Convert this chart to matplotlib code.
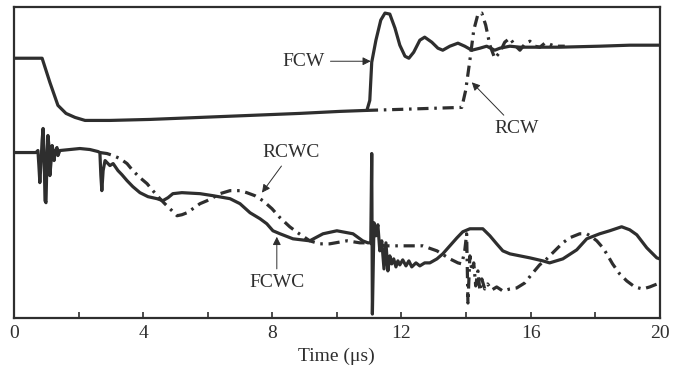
import numpy as np
import matplotlib.pyplot as plt

plt.rcParams['font.family'] = ['Liberation Serif', 'DejaVu Serif']

# upper traces: wall response, front (FCW) and rear (RCW)
t_fcw = [0.00, 0.87, 1.11, 1.36, 1.61, 1.89, 2.20, 2.97, 4.21, 5.76, 7.31, 8.85,
         10.09, 10.93, 11.02, 11.08, 11.21, 11.36, 11.49, 11.64, 11.80, 11.95,
         12.11, 12.23, 12.38, 12.57, 12.72, 12.94, 13.13, 13.28, 13.50, 13.75,
         13.96, 14.18, 14.43, 14.64, 14.89, 15.05, 15.36, 15.67, 16.29, 16.90,
         18.14, 19.07, 20.00]
fcw = [259, 259, 235, 212, 204, 200, 197, 197, 198, 200, 202, 204,
       206, 207, 217, 255, 277, 297, 304, 303, 289, 272,
       261, 259, 265, 277, 280, 275, 269, 267, 271, 274,
       271, 267, 269, 271, 267, 269, 271, 270, 270, 270,
       271, 272, 272]

t_rcw = [10.93, 11.95, 12.88, 13.87, 13.99, 14.12, 14.24, 14.37, 14.49, 14.61,
         14.74, 14.89, 15.05, 15.20, 15.36, 15.51, 15.67, 15.82, 15.98, 16.13,
         16.29, 16.44, 16.59, 16.75, 17.06]
rcw = [207, 208, 209, 210, 227, 257, 287, 303, 304, 292,
       272, 259, 265, 275, 279, 272, 267, 273, 276, 271,
       270, 274, 273, 271, 271]

# lower traces: FCWC and RCWC
t_fcwc = [0.00, 0.68, 0.74, 0.77, 0.80, 0.84, 0.87, 0.90, 0.93, 0.96, 0.99, 1.02,
          1.05, 1.08, 1.11, 1.15, 1.18, 1.21, 1.24, 1.27, 1.33, 1.36, 1.42, 1.73,
          2.04, 2.35, 2.60, 2.66, 2.69, 2.72, 2.76, 2.82, 2.88, 2.97, 3.07, 3.22,
          3.34, 3.50, 3.68, 3.90, 4.15, 4.43, 4.61, 4.77, 4.92, 5.20, 5.76, 6.16,
          6.69, 7.00, 7.31, 7.62, 7.83, 8.02, 8.24, 8.64, 9.16, 9.57, 10.00, 10.50,
          10.80, 10.96, 11.05, 11.08, 11.10, 11.15, 11.21, 11.27, 11.33, 11.39,
          11.46, 11.52, 11.58, 11.64, 11.70, 11.76, 11.83, 11.89, 11.95, 12.04,
          12.14, 12.23, 12.32, 12.45, 12.57, 12.72, 12.88, 13.10, 13.28, 13.50,
          13.72, 13.90, 14.12, 14.52, 14.74, 14.95, 15.14, 15.36, 15.98, 16.38,
          16.59, 17.00, 17.43, 17.74, 18.14, 18.45, 18.82, 19.07, 19.29, 19.60,
          19.91, 20.00]
fcwc = [165, 165, 167, 152, 135, 157, 177, 189, 167, 117, 115, 157,
        182, 172, 142, 157, 172, 167, 157, 165, 170, 162, 167, 168,
        169, 168, 166, 165, 142, 127, 147, 157, 155, 152, 154, 147,
        143, 137, 131, 125, 121, 119, 117, 120, 124, 125, 124, 122,
        119, 114, 105, 99, 94, 87, 84, 79, 77, 84, 87, 84,
        77, 75, 75, 164, 4, 95, 82, 93, 67, 77,
        49, 75, 47, 62, 54, 59, 51, 57, 53, 58,
        52, 57, 51, 55, 52, 55, 55, 59, 64, 72,
        80, 86, 89, 89, 82, 74, 67, 64, 60, 57,
        55, 59, 68, 79, 84, 87, 91, 88, 83, 70,
        60, 59]

t_rcwc = [2.66, 2.88, 3.07, 3.28, 3.50, 3.68, 3.90, 4.12, 4.30, 4.52, 4.67, 4.83,
          5.05, 5.20, 5.36, 5.54, 5.76, 5.98, 6.16, 6.38, 6.69, 7.00, 7.21, 7.46,
          7.71, 7.99, 8.24, 8.54, 8.79, 9.16, 9.47, 9.78, 10.31, 10.71, 10.93, 11.08,
          11.49, 11.86, 12.26, 12.66, 13.10, 13.50, 13.75, 13.87, 13.96, 14.02,
          14.06, 14.12, 14.18, 14.24, 14.30, 14.37, 14.43, 14.49, 14.58, 14.67,
          14.80, 14.95, 15.14, 15.36, 15.57, 15.82, 16.07, 16.28, 16.50, 16.81,
          17.00, 17.21, 17.52, 17.74, 17.89, 18.05, 18.24, 18.36, 18.54, 18.76,
          18.98, 19.23, 19.47, 19.69, 20.00]
rcwc = [165, 164, 162, 159, 154, 147, 140, 134, 127, 119, 114, 109,
        102, 103, 105, 109, 114, 117, 120, 124, 127, 127, 125, 122,
        117, 109, 100, 91, 85, 77, 74, 74, 77, 75, 75, 74,
        72, 72, 72, 72, 67, 59, 55, 54, 67, 84,
        15, 62, 47, 55, 32, 47, 27, 39, 29, 34,
        28, 31, 27, 29, 30, 35, 45, 53, 59, 69,
        75, 80, 84, 84, 81, 77, 70, 64, 54, 44,
        37, 31, 29, 31, 35]

ink = '#2e2e2e'
dashdot = (0, (3.5, 1.8, 0.8, 1.8))

fig = plt.figure(figsize=(6.74, 3.72), dpi=100)
ax = fig.add_axes([0.0208, 0.145, 0.958, 0.836])

ax.plot(t_fcw, fcw, color=ink, lw=2.3, solid_joinstyle='round')
ax.plot(t_rcw, rcw, color=ink, lw=2.3, ls=dashdot)
ax.plot(t_fcwc, fcwc, color=ink, lw=2.3, solid_joinstyle='round')
ax.plot(t_rcwc, rcwc, color=ink, lw=2.3, ls=dashdot)

arrow = dict(arrowstyle='-|>', color=ink, lw=0.7, mutation_scale=12, shrinkA=2, shrinkB=0)
ax.annotate('FCW', xy=(11.05, 256), xytext=(9.63, 256), ha='right', va='center',
            fontsize=14, color=ink, arrowprops=arrow)
ax.annotate('RCW', xy=(14.18, 235), xytext=(15.57, 189), ha='center', va='center',
            fontsize=14, color=ink, arrowprops=arrow)
ax.annotate('RCWC', xy=(7.68, 125), xytext=(8.59, 165), ha='center', va='center',
            fontsize=14, color=ink, arrowprops=arrow)
ax.annotate('FCWC', xy=(8.14, 81), xytext=(8.14, 35), ha='center', va='center',
            fontsize=14, color=ink, arrowprops=arrow)

ax.set_xlim(0, 20)
ax.set_ylim(0, 310)
ax.set_xticks(range(0, 21, 4))
ax.set_xticks(range(0, 21, 2), minor=True)
ax.set_yticks([])
ax.tick_params(axis='x', which='both', direction='in', length=4, width=1.2,
               color=ink, labelcolor=ink, labelsize=14, pad=5)
for s in ax.spines.values():
    s.set_color(ink)
    s.set_linewidth(1.6)
ax.set_xlabel('Time (μs)', fontsize=14, color=ink, labelpad=4)

fig.savefig('out.png', dpi=100)
